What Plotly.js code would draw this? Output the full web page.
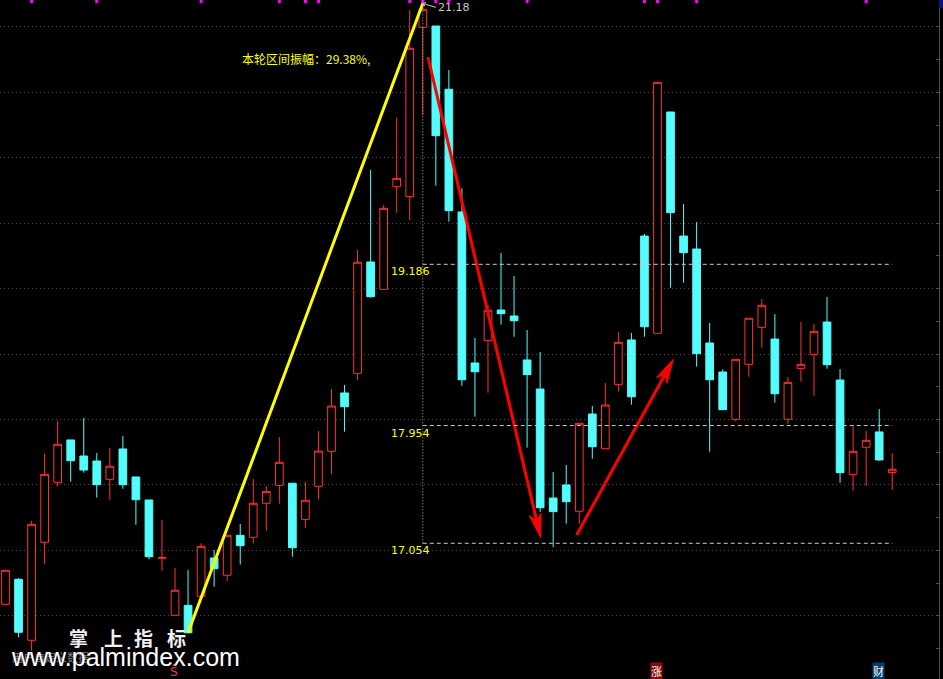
<!DOCTYPE html>
<html><head><meta charset="utf-8">
<script src="https://cdn.plot.ly/plotly-3.0.1.min.js"></script>
<style>html,body{margin:0;padding:0;background:#000;overflow:hidden}#chart{width:943px;height:679px}</style>
</head><body><div id="chart"></div>
<script>
const openP = [16.588,16.779,16.313,17.062,17.520,17.844,17.721,17.683,17.543,17.775,
17.561,17.385,16.940,16.504,16.580,16.649,16.942,16.810,17.115,17.100,
17.360,17.497,17.513,17.237,17.490,17.757,18.203,18.353,19.204,18.995,
19.779,19.703,20.997,21.007,20.524,19.586,18.432,18.605,18.837,18.791,
18.455,18.233,17.400,17.500,17.299,18.042,17.777,18.269,18.608,19.402,
18.659,20.350,19.402,19.303,18.585,18.363,18.002,18.422,18.705,18.615,
18.002,18.391,18.498,18.745,18.302,17.581,17.788,17.905,17.594];
const highP = [16.848,16.789,17.225,17.737,17.989,17.844,18.012,17.744,17.782,17.874,
17.561,17.385,17.232,16.865,16.850,17.054,17.003,17.115,17.202,17.545,
17.492,17.866,17.513,17.523,17.912,18.233,18.264,19.295,19.907,19.639,
20.307,21.130,21.180,21.007,20.671,19.767,18.623,18.875,19.273,19.097,
18.684,18.516,17.599,17.652,17.971,18.103,18.279,18.669,18.661,19.418,
20.577,20.350,19.647,19.509,18.738,18.384,18.460,18.774,18.921,18.806,
18.325,18.745,18.730,18.936,18.386,17.950,17.912,18.080,17.744];
const lowP = [16.588,16.336,16.233,16.894,17.487,17.525,17.594,17.403,17.387,17.471,
17.196,16.932,16.845,16.504,16.370,16.649,16.722,16.768,16.891,17.051,
17.150,17.357,16.952,17.173,17.390,17.586,17.907,18.304,18.931,18.995,
19.581,19.525,20.327,19.787,19.512,18.258,18.022,18.205,18.725,18.633,
17.785,17.293,17.024,17.204,17.204,17.701,17.777,18.213,18.113,18.633,
18.659,19.007,19.046,18.404,17.754,18.075,17.987,18.327,18.549,18.129,
17.968,18.289,18.182,18.388,17.517,17.456,17.494,17.685,17.464];
const closeP = [16.848,16.374,17.199,17.581,17.811,17.685,17.614,17.502,17.643,17.502,
17.387,16.952,16.946,16.695,16.370,17.031,16.860,17.115,17.036,17.360,
17.451,17.673,17.020,17.383,17.759,18.103,18.098,19.202,18.939,19.614,
19.843,20.837,21.135,20.169,19.596,18.304,18.365,18.835,18.809,18.755,
18.343,17.326,17.296,17.372,17.971,17.792,18.111,18.590,18.174,18.709,
20.577,19.581,19.275,18.503,18.304,18.075,18.460,18.774,18.873,18.197,
18.284,18.422,18.674,18.419,17.594,17.757,17.841,17.691,17.620];

const levelValues = [19.186, 17.954, 17.054];
const levelLabels = ['19.186', '17.954', '17.054'];
const levelFrom = 32, levelTo = 68;
const swingLowIdx = 14, swingHighIdx = 32;
const topMarkIdx = [2, 7, 15, 21, 23, 24, 31, 32, 33, 34, 40, 49, 50, 53, 66];
const eventIdx = [50, 67];
const eventText = ['涨', '财'];
const eventBg = ['#8c0a0a', '#0b3c6e'];
const sIdx = 13;
const downArrowX = [32.4, 41.04], downArrowY = [20.77, 17.097];
const upArrowX = [43.8, 51.21], upArrowY = [17.118, 18.46];
const brandChars = ['掌', '上', '指', '标'];

const idx = openP.map((_, i) => i);
const W = 943, H = 679, mR = 4;
const PW = W - mR, PH = H;
const xRange = [-0.4218, 71.587];
const yRange = [16.017, 21.206];
const sx = PW / (xRange[1] - xRange[0]);
const sy = PH / (yRange[1] - yRange[0]);

function arrowParts(xs, ys, L, hw) {
  const x1 = xs[0], y1 = ys[0], x2 = xs[1], y2 = ys[1];
  const dx = (x2 - x1) * sx, dy = (y2 - y1) * sy;
  const len = Math.hypot(dx, dy);
  const ux = dx / len, uy = dy / len, nx = -uy, ny = ux;
  const pts = [[0, 0], [-L * ux + hw * nx, -L * uy + hw * ny], [-0.72 * L * ux, -0.72 * L * uy],
               [-L * ux - hw * nx, -L * uy - hw * ny], [0, 0]];
  const head = { x: pts.map(p => x2 + p[0] / sx), y: pts.map(p => y2 + p[1] / sy) };
  const shaft = { x: [x1, x2 - 0.6 * L * ux / sx], y: [y1, y2 - 0.6 * L * uy / sy] };
  return { head, shaft };
}
const a1 = arrowParts(downArrowX, downArrowY, 24, 6);
const a2 = arrowParts(upArrowX, upArrowY, 24, 6);

const traces = [
  { type: 'candlestick', x: idx, open: openP, high: highP, low: lowP, close: closeP,
    increasing: { line: { color: '#ff3232', width: 1 }, fillcolor: '#000000' },
    decreasing: { line: { color: '#54fcfc', width: 1 }, fillcolor: '#54fcfc' },
    whiskerwidth: 0, hoverinfo: 'skip', showlegend: false },
  { type: 'scatter', mode: 'lines', x: [swingLowIdx, swingHighIdx], y: [lowP[swingLowIdx], highP[swingHighIdx]],
    line: { color: '#ffff00', width: 3 }, hoverinfo: 'skip', showlegend: false },
  { type: 'scatter', mode: 'lines', x: a1.shaft.x, y: a1.shaft.y, line: { color: '#ff0000', width: 3 }, hoverinfo: 'skip', showlegend: false },
  { type: 'scatter', mode: 'lines', x: a1.head.x, y: a1.head.y, fill: 'toself', fillcolor: '#ff0000', line: { color: '#ff0000', width: 1 }, hoverinfo: 'skip', showlegend: false },
  { type: 'scatter', mode: 'lines', x: a2.shaft.x, y: a2.shaft.y, line: { color: '#ff0000', width: 3 }, hoverinfo: 'skip', showlegend: false },
  { type: 'scatter', mode: 'lines', x: a2.head.x, y: a2.head.y, fill: 'toself', fillcolor: '#ff0000', line: { color: '#ff0000', width: 1 }, hoverinfo: 'skip', showlegend: false },
  { type: 'scatter', mode: 'markers', x: topMarkIdx, y: topMarkIdx.map(() => yRange[1] - 1.5 / sy),
    marker: { symbol: 'square', size: 3, color: '#ff00ff', line: { width: 0 } }, cliponaxis: false, hoverinfo: 'skip', showlegend: false }
];

const shapes = [];
levelValues.forEach(v => shapes.push({ type: 'line', xref: 'x', yref: 'y', x0: levelFrom, x1: levelTo, y0: v, y1: v,
  line: { color: '#c8c8c8', width: 1, dash: '4px,3px' } }));
shapes.push({ type: 'line', xref: 'x', yref: 'y', x0: levelFrom, x1: levelFrom, y0: Math.min(...levelValues), y1: yRange[1],
  line: { color: '#b4b4b4', width: 1, dash: '1px,2px' } });
shapes.push({ type: 'rect', xref: 'paper', yref: 'paper', x0: 1, x1: W / PW, y0: 1, y1: 1 - 8 / PH,
  fillcolor: '#10108c', line: { width: 0 } });

const amp = ((highP[swingHighIdx] / lowP[swingLowIdx] - 1) * 100).toFixed(2);
const px = v => v / PW, py = v => 1 - v / PH;
const annotations = [
  { xref: 'paper', yref: 'paper', x: px(240), y: py(58), xanchor: 'left', yanchor: 'middle', showarrow: false,
    text: '本轮区间振幅：' + amp + '%,', font: { family: 'Noto Sans CJK SC', size: 12, color: '#ffff00' } },
  { xref: 'x', yref: 'y', x: swingHighIdx, y: highP[swingHighIdx], ax: 13, ay: 4, xanchor: 'left', yanchor: 'middle',
    text: highP[swingHighIdx].toFixed(2), showarrow: true, arrowhead: 4, arrowsize: 0.8, arrowwidth: 1, arrowcolor: '#c8c8c8',
    font: { family: 'DejaVu Sans', size: 11, color: '#c8c8c8' } },
  { xref: 'paper', yref: 'paper', x: px(10), y: py(657), xanchor: 'left', yanchor: 'middle', showarrow: false,
    text: '用户自定义数据', font: { family: 'Noto Sans CJK SC', size: 11, color: '#7a7a7a' } },
  { xref: 'paper', yref: 'paper', x: px(9), y: py(657), xanchor: 'left', yanchor: 'middle', showarrow: false,
    text: 'www.palmindex.com', font: { family: 'Liberation Sans', size: 25, color: '#ffffff' } },
  { xref: 'x', yref: 'paper', x: sIdx, xshift: -1, y: py(671), xanchor: 'center', yanchor: 'middle', showarrow: false,
    text: 'Ŝ', font: { family: 'DejaVu Sans', size: 12, color: '#ff3232' } }
];
levelValues.forEach((v, i) => annotations.push({ xref: 'x', yref: 'y', x: levelFrom, y: v, xshift: 9, yshift: -7.5,
  xanchor: 'right', yanchor: 'middle', showarrow: false, text: levelLabels[i],
  font: { family: 'DejaVu Sans', size: 11, color: '#ffff00' } }));
const brandX = [78.5, 113, 143.5, 176];
brandChars.forEach((c, i) => annotations.push({ xref: 'paper', yref: 'paper', x: px(brandX[i]), y: py(637.5),
  xanchor: 'center', yanchor: 'middle', showarrow: false, text: '<b>' + c + '</b>',
  font: { family: 'Noto Sans CJK SC', size: 19, color: '#f0f0f0' } }));
eventIdx.forEach((e, i) => annotations.push({ xref: 'x', yref: 'paper', x: e, xshift: -1, y: py(671.3),
  xanchor: 'center', yanchor: 'middle', showarrow: false, text: eventText[i], bgcolor: eventBg[i], borderpad: 0,
  font: { family: 'Noto Sans CJK SC', size: 11, color: '#ffffff' } }));

const layout = {
  width: W, height: H, margin: { l: 0, r: mR, t: 0, b: 0, pad: 0 },
  paper_bgcolor: '#000000', plot_bgcolor: '#000000', showlegend: false,
  boxgap: 0.41, boxgroupgap: 0,
  xaxis: { range: xRange, showgrid: false, zeroline: false, showticklabels: false, ticks: '', showline: false,
    rangeslider: { visible: false }, fixedrange: true },
  yaxis: { range: yRange, side: 'right', showline: true, linecolor: '#505050', linewidth: 1, mirror: false,
    ticks: 'inside', ticklen: 3, tickcolor: '#505050', tick0: 16, dtick: 0.5, showticklabels: false,
    showgrid: true, gridcolor: '#4a4a4a', gridwidth: 1, griddash: '1px,3px', zeroline: false, fixedrange: true,
    minor: { dtick: 0.25, ticks: 'inside', ticklen: 3, tickcolor: '#505050', showgrid: false } },
  shapes, annotations
};
Plotly.newPlot('chart', traces, layout, { staticPlot: true, displayModeBar: false });
</script></body></html>
